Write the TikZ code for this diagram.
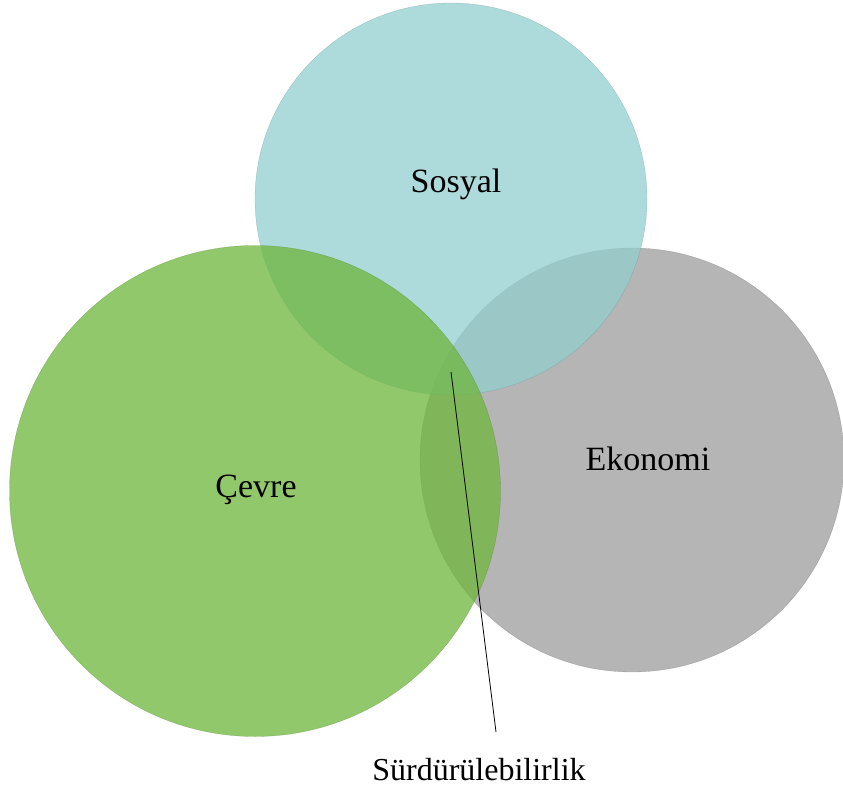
\documentclass[tikz,border=0pt]{standalone}
\usepackage{fontspec}
\setmainfont{Liberation Serif}
\usepackage{tikz}
\usetikzlibrary{positioning}
\definecolor{sosyalrenk}{RGB}{146,206,206}
\definecolor{cevrerenk}{RGB}{110,182,59}
\definecolor{ekonomirenk}{RGB}{156,156,156}

\begin{document}
\begin{tikzpicture}[x=1pt,y=-1pt,
    daire/.style={circle,inner sep=0pt,fill opacity=0.75,draw opacity=0.5,line width=0.3pt},
    baslik/.style={anchor=base,inner sep=0pt,font=\fontsize{34}{40}\selectfont}]
           \useasboundingbox (0,0) rectangle (843,791);
           % daireler
           \node[daire, fill=ekonomirenk, draw=ekonomirenk!70!black, minimum size=424pt] (ekonomi) at (632,460) {};
           \node[daire, fill=sosyalrenk, draw=sosyalrenk!70!black, minimum size=392pt] (sosyal) at (451,199) {};
           \node[daire, fill=cevrerenk, draw=cevrerenk!70!black, minimum size=491pt] (cevre) at (255,491) {};
           % yazilar
           \node[baslik] (sosyalyazi) at (456,193) {Sosyal};
           \node[baslik] (ekonomiyazi) at (648,470) {Ekonomi};
           \node[baslik] (cevreyazi) at (256,497) {Çevre};
           \node[baslik, font=\fontsize{32}{38}\selectfont] (surd) at (479,780) {Sürdürülebilirlik};
           \coordinate (kesisim) at (451,372);
           \coordinate (cizgiucu) at (496,732);
            \draw[line width=0.8pt] (kesisim) -- (cizgiucu);
        \end{tikzpicture}
\end{document}
